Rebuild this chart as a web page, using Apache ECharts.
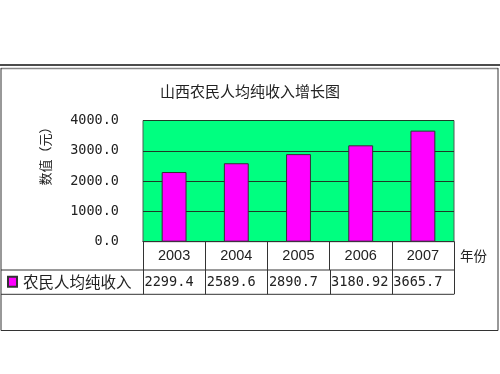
<!DOCTYPE html>
<html>
<head>
<meta charset="utf-8">
<script src="https://cdn.jsdelivr.net/npm/echarts@6/dist/echarts.min.js"></script>
<style>html,body{margin:0;padding:0;background:#fff;}#c{width:500px;height:374px;}</style>
</head>
<body>
<div id="c"></div>
<script>
const categories = ['2003', '2004', '2005', '2006', '2007'];
const values = [2299.4, 2589.6, 2890.7, 3180.92, 3665.7];
const yMin = 0, yMax = 4000, yStep = 1000;
const seriesName = '农民人均纯收入';
const titleText = '山西农民人均纯收入增长图';
const yName = '数值（元）';
const xName = '年份';

const CJK = '"Noto Sans CJK SC", sans-serif';
const MONO = '"DejaVu Sans Mono", monospace';
const ink = '#222';

const chart = echarts.init(document.getElementById('c'), null, {renderer: 'canvas'});
chart.setOption({
  animation: false,
  backgroundColor: '#fff',
  title: {
    text: titleText, left: 'center', top: 79,
    textStyle: {fontSize: 15, fontWeight: 'normal', color: ink, fontFamily: CJK}
  },
  legend: {
    data: [seriesName], left: 7, top: 274, padding: 0, icon: 'rect', itemWidth: 9, itemHeight: 10, itemGap: 6,
    textStyle: {fontSize: 15.5, color: ink, fontFamily: CJK, padding: [0, 0, 0, 1]}
  },
  grid: {
    left: 143, right: 46, top: 120.5, bottom: 132.3,
    show: true, backgroundColor: '#00FF80', borderColor: '#4d5f55', borderWidth: 1
  },
  xAxis: {
    type: 'category', data: categories,
    name: xName, nameLocation: 'end', nameGap: 6,
    nameTextStyle: {fontSize: 13.5, color: ink, fontFamily: CJK, verticalAlign: 'top', padding: [7, 0, 0, 0]},
    axisLine: {show: true, lineStyle: {color: '#333', width: 1}},
    axisTick: {show: true, alignWithLabel: false, length: 28.3, lineStyle: {color: '#333'}},
    axisLabel: {fontSize: 14.5, color: ink, fontFamily: '"Liberation Sans", Arial, sans-serif', margin: 7}
  },
  yAxis: {
    type: 'value', min: yMin, max: yMax, interval: yStep,
    axisLine: {show: false}, axisTick: {show: false},
    axisLabel: {formatter: v => v.toFixed(1), fontSize: 13.5, color: ink, fontFamily: MONO, margin: 24},
    splitLine: {show: true, lineStyle: {color: '#1e3a27', width: 1}}
  },
  series: [{
    name: seriesName, type: 'bar', data: values, barWidth: '40%',
    itemStyle: {color: '#FF00FF', borderColor: '#333', borderWidth: 1}
  }]
});

// table and frame drawn from the axes' own pixel positions
const c0 = chart.convertToPixel({xAxisIndex: 0}, 0);
const c1 = chart.convertToPixel({xAxisIndex: 0}, 1);
const band = c1 - c0;
const y0 = chart.convertToPixel({yAxisIndex: 0}, yMin);
const row1Bottom = y0 + 28.3;
const row2Bottom = row1Bottom + 24.3;
const tableLeft = 1;
const tableRight = c0 - band / 2 + band * categories.length;
const gfx = [];
const line = (x1, y1, x2, y2, color, w) => gfx.push({
  type: 'line', shape: {x1, y1, x2, y2}, style: {stroke: color || '#333', lineWidth: w || 1}, silent: true
});
// outer frame
line(0, 65, 500, 65, '#111', 1.5);
line(1, 68.5, 498, 68.5, '#888', 1.5);
line(1, 68, 1, 330.5, '#333', 1);
line(498, 68, 498, 330.5, '#333', 1);
line(1, 330.5, 498, 330.5, '#333', 1);
// table lines
line(tableLeft, row1Bottom, tableRight, row1Bottom);
line(tableLeft, row2Bottom, tableRight, row2Bottom);
for (let i = 0; i <= categories.length; i++) {
  const x = Math.round(c0 - band / 2 + band * i) + 0.5;
  line(x, (i === 0 || i === categories.length) ? y0 : row1Bottom, x, row2Bottom);
}
// value row
values.forEach((v, i) => {
  const x = c0 - band / 2 + band * i;
  gfx.push({
    type: 'text', left: x + 1.5, top: row1Bottom + 5, silent: true,
    style: {text: String(v), fontSize: 13.6, fontFamily: MONO, fill: ink}
  });
});
// y axis name
gfx.push({
  type: 'text', x: 45, y: 153, rotation: Math.PI / 2, silent: true,
  style: {text: yName, fontSize: 13, fontFamily: CJK, fill: ink, align: 'center', verticalAlign: 'middle'}
});
chart.setOption({graphic: gfx});
</script>
</body>
</html>
